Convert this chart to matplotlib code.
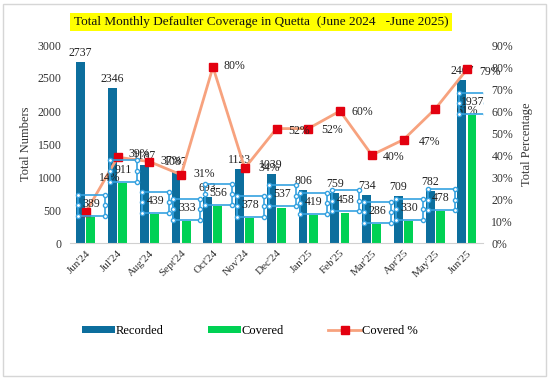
import numpy as np
import matplotlib.pyplot as plt
from matplotlib.patches import Rectangle
from matplotlib.ticker import FuncFormatter

months = ["Jun'24", "Jul'24", "Aug'24", "Sept'24", "Oct'24", "Nov'24", "Dec'24",
          "Jan'25", "Feb'25", "Mar'25", "Apr'25", "May'25", "Jun'25"]
recorded = [2737, 2346, 1187, 1087, 693, 1123, 1039, 806, 759, 734, 709, 782, 2467]
covered = [389, 911, 439, 333, 556, 378, 537, 419, 458, 286, 330, 478, 1937]
covered_pct = [14, 39, 37, 31, 80, 34, 52, 52, 60, 40, 47, 61, 79]

# pixel offsets of the percentage labels from their markers
pct_offsets = [(13, 34), (11, 3), (11, 1), (12, 1), (11, 1), (14, 0), (12, -2),
               (13, -1), (11, -1), (11, -2), (15, -2), (21, -2), (12, -3)]

plt.rcParams['font.family'] = ['Liberation Serif', 'DejaVu Serif']

BLUE = '#0C6E9D'
GREEN = '#00D154'
LINE = '#F7A27E'
RED = '#E3000F'
SEL = '#35A2E0'

fig = plt.figure(figsize=(5.5, 3.79), dpi=100)
ax = fig.add_axes([70 / 550, 1 - 243 / 379, 413 / 550, 198 / 379])
ax2 = ax.twinx()

x = np.arange(len(months))
w = 0.28
ax.bar(x - 0.165, recorded, w, color=BLUE, label='Recorded', zorder=2)
ax.bar(x + 0.155, covered, w, color=GREEN, label='Covered', zorder=2)
ax2.plot(x, covered_pct, color=LINE, lw=2, marker='s', ms=5.5,
         mfc=RED, mec=RED, label='Covered %', zorder=3)

ax.set_xlim(-0.5, len(months) - 0.5)
ax.set_ylim(0, 3000)
ax2.set_ylim(0, 90)
ax.set_yticks(range(0, 3001, 500))
ax2.set_yticks(range(0, 91, 10))
ax2.yaxis.set_major_formatter(FuncFormatter(lambda v, p: f'{v:.0f}%'))

for a in (ax, ax2):
    for s in a.spines.values():
        s.set_visible(False)
    a.tick_params(length=0, labelsize=8.5, colors='#333333')
ax.spines['bottom'].set_visible(True)
ax.spines['bottom'].set_color('#d0d0d0')
ax.set_xticks(x)
ax.set_xticklabels(months, rotation=45, ha='right', rotation_mode='anchor')
ax.tick_params(axis='x', pad=4, labelsize=8)
ax.tick_params(axis='y', pad=6)
ax2.tick_params(axis='y', pad=6)

ax.set_ylabel('Total Numbers', fontsize=9, color='#333333', labelpad=4)
ax2.set_ylabel('Total Percentage', fontsize=9, color='#333333', labelpad=6)

# recorded labels above the bars
for i, v in enumerate(recorded):
    ax.annotate(str(v), (i - 0.165, v), xytext=(0, 3), textcoords='offset pixels',
                ha='center', va='bottom', fontsize=8.5, color='#222222', zorder=5)

# percentage labels
for i, (v, off) in enumerate(zip(covered_pct, pct_offsets)):
    ax2.annotate(f'{v}%', (i, v), xytext=off, textcoords='offset pixels',
                 ha='left', va='center', fontsize=8.5, color='#222222', zorder=5)

# covered labels sitting in selected label boxes
bw, bh = 0.85, 320
for i, v in enumerate(covered):
    cx, cy = i + 0.18, v + 200
    ax2.text(cx, cy, str(v), transform=ax.transData, ha='center', va='center',
             fontsize=8.5, color='#222222', zorder=6)
    y0 = cy - 20 - bh / 2
    ax2.add_patch(Rectangle((cx - bw / 2, y0), bw, bh, transform=ax.transData,
                            fill=False, ec=SEL, lw=1.2, zorder=6))
    hx = [cx - bw / 2, cx + bw / 2] * 3
    hy = [y0, y0, y0 + bh / 2, y0 + bh / 2, y0 + bh, y0 + bh]
    ax2.scatter(hx, hy, s=9, transform=ax.transData, facecolor='white',
                edgecolor=SEL, linewidth=1.0, zorder=7)

# title with yellow band
fig.text(261 / 550, 1 - 22 / 379,
         'Total Monthly Defaulter Coverage in Quetta  (June 2024   -June 2025)',
         ha='center', va='center', fontsize=9.5, color='#111111',
         bbox=dict(boxstyle='square,pad=0.25', fc='#FFFF00', ec='none'))

h1, l1 = ax.get_legend_handles_labels()
h2, l2 = ax2.get_legend_handles_labels()
fig.legend(h1 + h2, l1 + l2, loc='center', bbox_to_anchor=(250 / 550, 1 - 331 / 379),
           ncol=3, frameon=False, fontsize=9, handlelength=2.6, handletextpad=0.1,
           handleheight=0.5, columnspacing=3.55)

# thin outer frame
fig.patches.append(Rectangle((3 / 550, 3 / 379), 543 / 550, 372 / 379,
                             transform=fig.transFigure, fill=False,
                             ec='#d6d6d6', lw=1))

fig.savefig('out.png', dpi=100)
